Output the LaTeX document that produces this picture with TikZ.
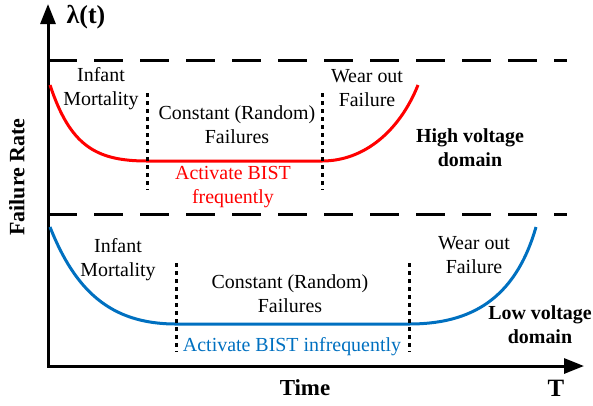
\documentclass[tikz,border=0pt]{standalone}
\usepackage{fontspec}
\setmainfont{Liberation Serif}
\usetikzlibrary{arrows.meta}
\definecolor{lowblue}{RGB}{0,112,192}
\begin{document}
\begin{tikzpicture}[x=1bp,y=-1bp,
txt/.style={align=center,inner sep=0pt,font=\fontsize{20}{24}\selectfont},
bld/.style={align=center,inner sep=0pt,font=\fontsize{20}{24}\selectfont\bfseries},
sep/.style={line width=3bp,dash pattern=on 29bp off 17bp},
dots/.style={line width=3bp,dash pattern=on 3.5bp off 4.5bp},
curve/.style={line width=3bp}]
\useasboundingbox (0,0) rectangle (593,405);
\coordinate (ytop) at (48,4);
\coordinate (o) at (48,366);
\coordinate (xend) at (584,366);
\draw[line width=3bp,{Triangle[length=20bp,width=15bp]}-{Triangle[length=20bp,width=15bp]}] (ytop) -- (o) -- (xend);
\draw[sep] (48,60) -- (567,60);
\draw[sep] (48,214) -- (567,214);
\draw[curve,red] (50,85) .. controls (70,145) and (95,161) .. (147,161) -- (322,161) .. controls (365,161) and (400,130) .. (418,85);
\draw[curve,lowblue] (50,227) .. controls (75,290) and (110,324) .. (176,324) -- (409,324) .. controls (470,324) and (515,300) .. (536,227);
\draw[dots] (147,93) -- (147,190);
\draw[dots] (322,93) -- (322,190);
\draw[dots] (176,263) -- (176,352);
\draw[dots] (409,263) -- (409,352);
\node[txt] (inf1) at (101,89) {Infant\\Mortality};
\node[txt] (con1) at (237,125) {Constant (Random)\\Failures};
\node[txt] (wear1) at (367,88) {Wear out\\Failure};
\node[txt,red] (bist1) at (233,187) {Activate BIST\\frequently};
\node[bld] (high) at (470,148) {High voltage\\domain};
\node[txt] (inf2) at (118,260) {Infant\\Mortality};
\node[txt] (con2) at (290,294) {Constant (Random)\\Failures};
\node[txt] (wear2) at (474,255) {Wear out\\Failure};
\node[txt,lowblue] (bist2) at (292,347) {Activate BIST infrequently};
\node[bld] (low) at (540,325) {Low voltage\\domain};
\node[bld,font=\fontsize{23}{27}\selectfont\bfseries] (time) at (305,388) {Time};
\node[bld,font=\fontsize{25}{29}\selectfont\bfseries] (tee) at (556,388) {T};
\node[bld,font=\fontsize{26}{30}\selectfont\bfseries] (lam) at (86,17) {λ(t)};
\node[bld,font=\fontsize{22}{26}\selectfont\bfseries,rotate=90] (rate) at (17,177) {Failure Rate};
\end{tikzpicture}
\end{document}
